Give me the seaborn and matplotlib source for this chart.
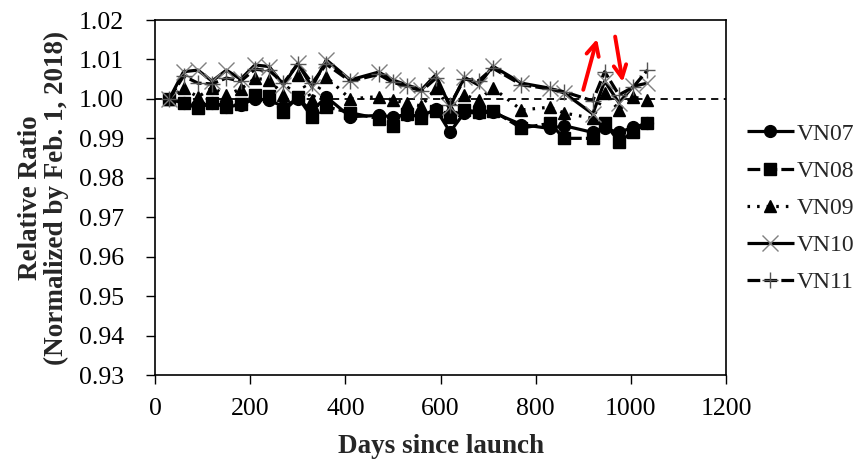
import numpy as np
import pandas as pd
import matplotlib.pyplot as plt
import seaborn as sns

sns.set_style('ticks')
plt.rcParams['font.family'] = ['Liberation Serif', 'DejaVu Serif']

# Days since launch (monthly samples)
days = [30, 60, 90, 120, 150, 180, 210, 240, 270, 300, 330, 360, 410, 470, 500,
        530, 560, 590, 620, 650, 680, 710, 770, 830, 860, 920, 945, 975, 1005, 1035]

vn07 = [1.0000, 0.9990, 0.9980, 0.9990, 0.9980, 0.9985, 1.0000, 0.9997, 0.9980, 1.0000,
        0.9970, 1.0005, 0.9955, 0.9958, 0.9955, 0.9960, 0.9955, 0.9975, 0.9916, 0.9965,
        0.9965, 0.9966, 0.9935, 0.9925, 0.9932, 0.9915, 0.9925, 0.9915, 0.9928, 0.9938]
vn08 = [1.0000, 0.9989, 0.9977, 0.9990, 0.9980, 0.9987, 1.0010, 1.0007, 0.9967, 1.0005,
        0.9953, 0.9980, 0.9965, 0.9950, 0.9932, 0.9962, 0.9952, 0.9970, 0.9955, 0.9972,
        0.9967, 0.9970, 0.9926, 0.9938, 0.9900, 0.9900, 0.9940, 0.9891, 0.9917, 0.9938]
vn09 = [1.0000, 1.0028, 1.0005, 1.0028, 1.0010, 1.0025, 1.0052, 1.0048, 1.0010, 1.0060,
        0.9998, 1.0056, 1.0000, 1.0006, 0.9997, 0.9989, 0.9982, 1.0027, 0.9975, 1.0010,
        0.9997, 1.0028, 0.9972, 0.9979, 0.9964, 0.9951, 1.0015, 0.9972, 1.0005, 0.9997]
vn10 = [1.0000, 1.0069, 1.0073, 1.0045, 1.0073, 1.0050, 1.0086, 1.0082, 1.0035, 1.0090,
        1.0030, 1.0099, 1.0048, 1.0068, 1.0048, 1.0035, 1.0023, 1.0061, 0.9980, 1.0055,
        1.0035, 1.0083, 1.0040, 1.0027, 1.0015, 0.9962, 1.0045, 0.9990, 1.0032, 1.0040]
vn11 = [1.0000, 1.0058, 1.0040, 1.0038, 1.0053, 1.0045, 1.0075, 1.0072, 1.0040, 1.0088,
        1.0040, 1.0088, 1.0045, 1.0062, 1.0042, 1.0032, 1.0020, 1.0052, 0.9985, 1.0050,
        1.0046, 1.0078, 1.0036, 1.0025, 1.0018, 0.9995, 1.0069, 1.0010, 1.0030, 1.0073]

series = ['VN07', 'VN08', 'VN09', 'VN10', 'VN11']
values = [vn07, vn08, vn09, vn10, vn11]

# red arrows marking the jump and drop near day 950 (tail, head)
arrow_up = ((900, 1.0023), (929, 1.0152))
arrow_down = ((967, 1.0158), (983, 1.0043))

styles = {
    'VN07': dict(marker='o', ls='-', ms=8.5, mfc='black', mec='black', mew=1),
    'VN08': dict(marker='s', ls=(0, (4, 1.3)), ms=9, mfc='black', mec='black', mew=1),
    'VN09': dict(marker='^', ls=(0, (0.8, 2.2)), ms=9, mfc='black', mec='black', mew=1),
    'VN10': dict(marker='x', ls='-', ms=11, mfc='#808080', mec='#808080', mew=1),
    'VN11': dict(marker='+', ls=(0, (4, 1.3)), ms=11, mfc='#555555', mec='#555555', mew=1),
}

fig = plt.figure(figsize=(8.68, 4.59), dpi=100)
ax = fig.add_axes([0.1786, 0.183, 0.6578, 0.7734])

for name, vals in zip(series, values):
    st = styles[name]
    sns.lineplot(x=days, y=vals, ax=ax, color='black', lw=2.3, label=name,
                 dash_capstyle='butt', solid_capstyle='butt', **st)

ax.axhline(1.0, color='black', lw=1.3, ls=(0, (4, 3)), zorder=1)

for tail, head in (arrow_up, arrow_down):
    ax.annotate('', xy=head, xytext=tail,
                arrowprops=dict(arrowstyle='->,head_length=0.9,head_width=0.45',
                                color='red', lw=2.8, shrinkA=0, shrinkB=0))

ax.set_xlim(0, 1200)
ax.set_ylim(0.93, 1.02)
ax.set_xticks(np.arange(0, 1201, 200))
ax.set_yticks(np.arange(0.93, 1.0201, 0.01))
ax.yaxis.set_major_formatter(plt.FormatStrFormatter('%.2f'))
ax.tick_params(direction='out', length=6.5, width=1, labelsize=18.5, colors='black')
ax.tick_params(axis='y', pad=16)
ax.tick_params(axis='x', pad=10)
for sp in ax.spines.values():
    sp.set_visible(True)
    sp.set_color('black')
    sp.set_linewidth(1.2)

ax.set_xlabel('Days since launch', fontsize=19.5, fontweight='bold', labelpad=10)
ax.set_ylabel('Relative Ratio\n(Normalized by Feb. 1, 2018)', fontsize=19.5,
              fontweight='bold', labelpad=7, linespacing=1.05)

ax.legend(loc='center left', bbox_to_anchor=(1.02, 0.47), frameon=False,
          fontsize=17, handlelength=2.0, labelspacing=0.66, handletextpad=0.1,
          borderaxespad=0)

fig.savefig('out.png', dpi=100, facecolor='white')
